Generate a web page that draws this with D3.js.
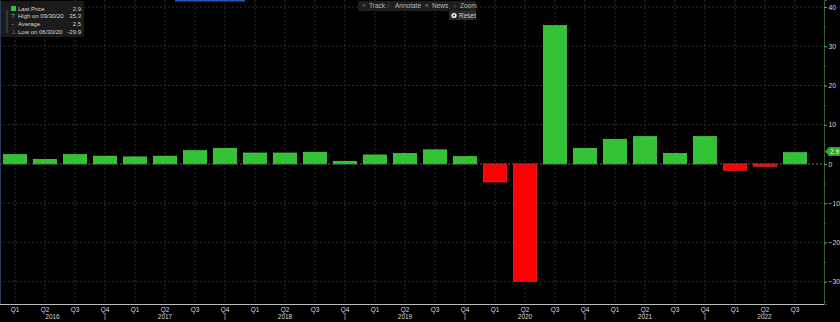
<!DOCTYPE html>
<html>
<head>
<meta charset="utf-8">
<script src="https://cdn.jsdelivr.net/npm/d3@7"></script>
<style>
  html, body { margin: 0; padding: 0; background: #000; }
  svg { display: block; font-family: "Liberation Sans", Arial, sans-serif; }
</style>
</head>
<body>
<svg id="chart" width="840" height="322"></svg>
<script>
const quarters = [
  '2016Q1', '2016Q2', '2016Q3', '2016Q4',
  '2017Q1', '2017Q2', '2017Q3', '2017Q4',
  '2018Q1', '2018Q2', '2018Q3', '2018Q4',
  '2019Q1', '2019Q2', '2019Q3', '2019Q4',
  '2020Q1', '2020Q2', '2020Q3', '2020Q4',
  '2021Q1', '2021Q2', '2021Q3', '2021Q4',
  '2022Q1', '2022Q2', '2022Q3',
];
const values = [
  2.4, 1.2, 2.4, 2.0,
  1.8, 2.0, 3.4, 4.0,
  2.8, 2.8, 3.0, 0.7,
  2.3, 2.7, 3.6, 1.9,
  -4.6, -29.9, 35.3, 4.0,
  6.3, 7.0, 2.7, 7.0,
  -1.6, -0.6, 2.9,
];
const yTicks = [-30, -20, -10, 0, 10, 20, 30, 40];
const legendRows = [
  { label: 'Last Price', value: '2.9' },
  { label: 'High on 09/30/20', value: '35.3' },
  { label: 'Average', value: '2.5' },
  { label: 'Low on 06/30/20', value: '-29.9' },
];
const toolbarItems = ['Track', 'Annotate', 'News', 'Zoom'];

const W = 840, H = 322;
const PLOT = { left: 0, right: 824, top: 0, bottom: 304 };
const GREEN = '#33c233';
const RED = '#ff0000';
const GRID = '#2e2e2e';
const TEXT = '#d8d8d8';

const svg = d3.select('#chart');
svg.append('rect').attr('width', W).attr('height', H).attr('fill', '#000');

const x = d3.scaleBand()
  .domain(quarters)
  .range([PLOT.left, 810])
  .paddingInner(0.22)
  .paddingOuter(0.11);
const y = d3.scaleLinear().domain([-35.7, 41.8]).range([PLOT.bottom, PLOT.top]);

const cx = (q) => x(q) + x.bandwidth() / 2;

// grid
const gridG = svg.append('g').attr('class', 'grid');
gridG.selectAll('line.v')
  .data(quarters)
  .join('line')
  .attr('class', 'v')
  .attr('x1', cx).attr('x2', cx)
  .attr('y1', PLOT.top).attr('y2', PLOT.bottom)
  .attr('stroke', GRID)
  .attr('stroke-dasharray', '2,2');
gridG.selectAll('line.h')
  .data(yTicks)
  .join('line')
  .attr('class', 'h')
  .attr('x1', PLOT.left).attr('x2', PLOT.right)
  .attr('y1', (d) => y(d)).attr('y2', (d) => y(d))
  .attr('stroke', GRID)
  .attr('stroke-dasharray', '2,2');

// bars
svg.append('g').selectAll('rect')
  .data(quarters.map((q, i) => ({ q, v: values[i] })))
  .join('rect')
  .attr('x', (d) => x(d.q))
  .attr('width', x.bandwidth())
  .attr('y', (d) => y(Math.max(0, d.v)))
  .attr('height', (d) => Math.abs(y(d.v) - y(0)))
  .attr('fill', (d) => (d.v >= 0 ? GREEN : RED))
  .attr('stroke', (d) => (d.v >= 0 ? '#5ad85a' : '#ff3030'))
  .attr('stroke-width', 0.6);

// zero line
svg.append('line')
  .attr('x1', PLOT.left).attr('x2', PLOT.right)
  .attr('y1', y(0)).attr('y2', y(0))
  .attr('stroke', '#555')
  .attr('stroke-dasharray', '2,2');

// right axis
const yAxisG = svg.append('g')
  .attr('transform', `translate(${PLOT.right},0)`)
  .call(d3.axisRight(y).tickValues(yTicks).tickSize(3).tickPadding(1.5).tickFormat(d3.format('d')));
yAxisG.select('.domain').attr('stroke', '#3d5a3d');
yAxisG.selectAll('.tick line').attr('stroke', '#3fbf3f');
yAxisG.selectAll('.tick text').attr('fill', TEXT).attr('font-size', 6.8);
svg.append('g')
  .attr('transform', `translate(${PLOT.right},0)`)
  .call(d3.axisRight(y).tickValues(d3.range(-35, 45, 10)).tickSize(2).tickFormat(''))
  .call((g) => g.select('.domain').remove())
  .selectAll('.tick line').attr('stroke', '#3a6a3a');

// last price tag
const lastY = y(values[values.length - 1]);
const tag = svg.append('g').attr('transform', `translate(${PLOT.right + 1},${lastY - 1})`);
tag.append('path')
  .attr('d', 'M0,0 L4,-4.5 H15 V4.5 H4 Z')
  .attr('fill', '#2fa52f');
tag.append('text')
  .attr('x', 9.5).attr('y', 2.6)
  .attr('text-anchor', 'middle')
  .attr('font-size', 6.5)
  .attr('fill', '#e8ffe8')
  .text(values[values.length - 1].toFixed(1));

// bottom axis
const xAxisG = svg.append('g')
  .attr('transform', `translate(0,${PLOT.bottom})`)
  .call(d3.axisBottom(x).tickSize(0).tickPadding(3).tickFormat((d) => d.slice(4)));
xAxisG.select('.domain').attr('stroke', '#bdbdbd').attr('d', `M${PLOT.left},0.5H${PLOT.right}`);
xAxisG.selectAll('.tick text').attr('fill', TEXT).attr('font-size', 6.5);

// year separators and labels
const years = Array.from(new Set(quarters.map((q) => q.slice(0, 4))));
const sepX = years.map((yr) => quarters.indexOf(yr + 'Q4')).filter((i) => i >= 0).map((i) => cx(quarters[i]));
const bounds = [PLOT.left].concat(sepX, [PLOT.right]);
svg.append('g').selectAll('line')
  .data(sepX)
  .join('line')
  .attr('x1', (d) => d).attr('x2', (d) => d)
  .attr('y1', PLOT.bottom + 9).attr('y2', PLOT.bottom + 16)
  .attr('stroke', '#8a8a8a');
svg.append('g').selectAll('text')
  .data(years)
  .join('text')
  .attr('x', (d, i) => (bounds[i] + bounds[i + 1]) / 2)
  .attr('y', PLOT.bottom + 14.5)
  .attr('text-anchor', 'middle')
  .attr('font-size', 6.5)
  .attr('fill', TEXT)
  .text((d) => d);

// left edge line and top blue mark
svg.append('line').attr('x1', 0.5).attr('x2', 0.5).attr('y1', 0).attr('y2', PLOT.bottom)
  .attr('stroke', '#2b3a55');
svg.append('rect').attr('x', 175).attr('y', 0).attr('width', 70).attr('height', 1.5).attr('fill', '#2458b8');

// legend
const lg = svg.append('g').attr('transform', 'translate(1,1)');
lg.append('rect').attr('width', 83).attr('height', 36).attr('fill', '#1b1b1b');
lg.append('line').attr('x1', 6).attr('x2', 6).attr('y1', 9).attr('y2', 32).attr('stroke', '#777').attr('stroke-width', 0.6);
lg.append('rect').attr('x', 10).attr('y', 5).attr('width', 5).attr('height', 5).attr('fill', GREEN);
const rowY = (i) => 9.8 + i * 7.6;
lg.selectAll('text.lbl')
  .data(legendRows)
  .join('text')
  .attr('class', 'lbl')
  .attr('x', 17)
  .attr('y', (d, i) => rowY(i))
  .attr('font-size', 6)
  .attr('fill', TEXT)
  .text((d) => d.label);
lg.selectAll('text.val')
  .data(legendRows)
  .join('text')
  .attr('class', 'val')
  .attr('x', 80)
  .attr('y', (d, i) => rowY(i))
  .attr('text-anchor', 'end')
  .attr('font-size', 6)
  .attr('fill', TEXT)
  .text((d) => d.value);
lg.selectAll('text.sym')
  .data(['T', '\u2212', '\u22A5'])
  .join('text')
  .attr('class', 'sym')
  .attr('x', 12)
  .attr('y', (d, i) => rowY(i + 1))
  .attr('text-anchor', 'middle')
  .attr('font-size', 6)
  .attr('fill', '#999')
  .text((d) => d);

// toolbar
const tb = svg.append('g').attr('transform', 'translate(358,1)');
tb.append('rect').attr('width', 118).attr('height', 10).attr('fill', '#1e1e1e');
const icons = ['+', '\u2215', '\u2261', '\u2315'];
const itemX = [4, 30, 67, 95];
toolbarItems.forEach((t, i) => {
  tb.append('text').attr('x', itemX[i]).attr('y', 7.3).attr('font-size', 6.5).attr('fill', '#777').text(icons[i]);
  tb.append('text').attr('x', itemX[i] + 7).attr('y', 7.3).attr('font-size', 6.5).attr('fill', '#bbb').text(t);
});
const rb = svg.append('g').attr('transform', 'translate(449,11)');
rb.append('rect').attr('width', 27).attr('height', 9).attr('fill', '#2a2a2a');
rb.append('circle').attr('cx', 5).attr('cy', 4.5).attr('r', 2.6).attr('fill', '#eee');
rb.append('circle').attr('cx', 5).attr('cy', 4.5).attr('r', 1).attr('fill', '#2a2a2a');
rb.append('text').attr('x', 10).attr('y', 7).attr('font-size', 6.5).attr('fill', '#ccc').text('Reset');
</script>
</body>
</html>
